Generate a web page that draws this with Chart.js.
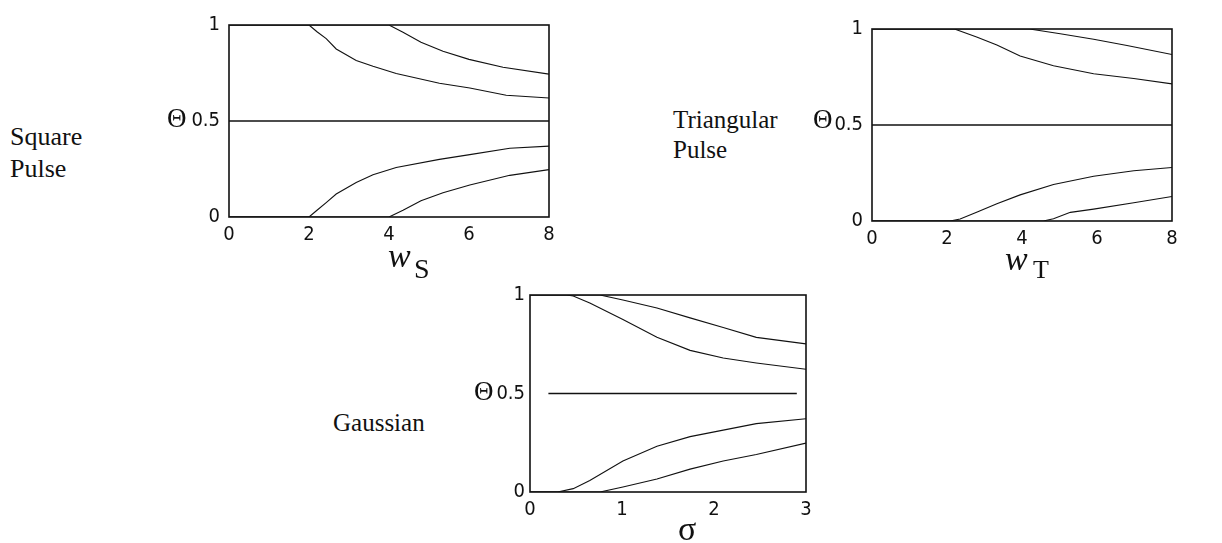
<!DOCTYPE html>
<html>
<head>
<meta charset="utf-8">
<script src="https://cdn.jsdelivr.net/npm/chart.js@4.4.1/dist/chart.umd.min.js"></script>
<style>
  html, body { margin: 0; padding: 0; background: #fff; }
  body { width: 1222px; height: 543px; position: relative; overflow: hidden; }
  canvas { position: absolute; }
  .t { position: absolute; white-space: nowrap; color: #111; font-family: 'Liberation Serif', 'Times New Roman', serif; }
</style>
</head>
<body>
<canvas id="c1"></canvas>
<canvas id="c2"></canvas>
<canvas id="c3"></canvas>
<script>
// ---------- DATA ----------
// Panel 1: Square pulse, x = w_S
const sqUpperOuterX = [0, 4.0, 4.35, 4.8, 5.35, 6.0, 6.85, 8.0];
const sqUpperOuterY = [1, 1.0, 0.962, 0.91, 0.863, 0.821, 0.780, 0.744];
const sqUpperInnerX = [0, 2.0, 2.2, 2.43, 2.68, 3.18, 3.6, 4.18, 5.26, 6.02, 6.93, 8.0];
const sqUpperInnerY = [1, 1.0, 0.965, 0.929, 0.875, 0.815, 0.785, 0.747, 0.697, 0.672, 0.634, 0.620];
const sqLowerInnerX = [0, 2.0, 2.2, 2.43, 2.68, 3.18, 3.6, 4.18, 5.26, 6.02, 7.02, 8.0];
const sqLowerInnerY = [0, 0.0, 0.035, 0.075, 0.120, 0.180, 0.220, 0.258, 0.300, 0.325, 0.358, 0.369];
const sqLowerOuterX = [0, 4.0, 4.35, 4.8, 5.35, 6.02, 7.02, 8.0];
const sqLowerOuterY = [0, 0.0, 0.035, 0.085, 0.126, 0.167, 0.217, 0.247];
const sqMidX = [0, 8];
const sqMidY = [0.5, 0.5];

// Panel 2: Triangular pulse, x = w_T
const trUpperOuterX = [0, 4.2, 5.02, 5.91, 6.8, 8.0];
const trUpperOuterY = [1, 1.0, 0.975, 0.947, 0.914, 0.867];
const trUpperInnerX = [0, 2.2, 2.79, 3.33, 3.95, 4.84, 5.91, 6.98, 8.0];
const trUpperInnerY = [1, 1.0, 0.958, 0.917, 0.859, 0.809, 0.767, 0.742, 0.714];
const trLowerInnerX = [0, 2.08, 2.35, 2.79, 3.33, 3.95, 4.84, 5.91, 6.98, 8.0];
const trLowerInnerY = [0, 0.0, 0.01, 0.045, 0.090, 0.136, 0.190, 0.233, 0.262, 0.279];
const trLowerOuterX = [0, 4.57, 4.84, 5.29, 5.91, 6.98, 8.0];
const trLowerOuterY = [0, 0.0, 0.012, 0.045, 0.062, 0.095, 0.128];
const trMidX = [0, 8];
const trMidY = [0.5, 0.5];

// Panel 3: Gaussian, x = sigma
const gaUpperOuterX = [0, 0.76, 1.01, 1.38, 1.74, 2.10, 2.46, 3.0];
const gaUpperOuterY = [1, 1.0, 0.975, 0.934, 0.884, 0.835, 0.785, 0.752];
const gaUpperInnerX = [0, 0.40, 0.47, 0.65, 1.01, 1.38, 1.74, 2.10, 2.46, 3.0];
const gaUpperInnerY = [1, 1.0, 0.995, 0.959, 0.876, 0.785, 0.719, 0.680, 0.655, 0.623];
const gaLowerInnerX = [0, 0.30, 0.47, 0.65, 1.01, 1.38, 1.74, 2.10, 2.46, 3.0];
const gaLowerInnerY = [0, 0.0, 0.017, 0.058, 0.157, 0.232, 0.281, 0.314, 0.347, 0.372];
const gaLowerOuterX = [0, 0.76, 1.01, 1.38, 1.74, 2.10, 2.46, 3.0];
const gaLowerOuterY = [0, 0.0, 0.025, 0.066, 0.116, 0.157, 0.190, 0.248];
const gaMidX = [0.2, 2.9];
const gaMidY = [0.5, 0.5];

const yTicks = [0, 0.5, 1];
const xTicksPulse = [0, 2, 4, 6, 8];
const xTicksGauss = [0, 1, 2, 3];

// ---------- HELPERS ----------
const pts = (xs, ys) => xs.map((x, i) => ({ x: x, y: ys[i] }));
const tickFont = { family: "'Liberation Sans Narrow', 'DejaVu Sans Condensed', 'Liberation Sans', sans-serif", size: 20 };

const boxPlugin = {
  id: 'box',
  afterDatasetsDraw(chart) {
    const a = chart.chartArea, ctx = chart.ctx;
    ctx.save();
    ctx.strokeStyle = '#111';
    ctx.lineWidth = 1.6;
    ctx.strokeRect(a.left, a.top, a.right - a.left, a.bottom - a.top);
    ctx.restore();
  }
};

function line(data, w) {
  return { data: data, borderColor: '#111', borderWidth: w || 1.1, pointRadius: 0,
           showLine: true, fill: false, tension: 0 };
}

function makeChart(id, area, xMax, xTickVals, yPad, datasets) {
  const padL = 50, padT = 12, padR = 12, axH = 40;
  const cv = document.getElementById(id);
  const w = (area.right - area.left) + padL + padR;
  const h = (area.bottom - area.top) + padT + axH;
  cv.width = w; cv.height = h;
  cv.style.width = w + 'px'; cv.style.height = h + 'px';
  cv.style.left = (area.left - padL) + 'px';
  cv.style.top = (area.top - padT) + 'px';
  return new Chart(cv, {
    type: 'scatter',
    data: { datasets: datasets },
    options: {
      responsive: false, animation: false, devicePixelRatio: 1,
      layout: { padding: { left: 0, top: padT, right: padR, bottom: 0 } },
      plugins: { legend: { display: false }, tooltip: { enabled: false } },
      scales: {
        x: {
          type: 'linear', min: 0, max: xMax,
          grid: { display: false, drawTicks: false }, border: { display: false },
          afterBuildTicks: s => { s.ticks = xTickVals.map(v => ({ value: v })); },
          afterFit: s => { s.height = axH; },
          ticks: { color: '#111', font: tickFont, padding: 6, maxRotation: 0, autoSkip: false }
        },
        y: {
          type: 'linear', min: 0, max: 1,
          grid: { display: false, drawTicks: false }, border: { display: false },
          afterBuildTicks: s => { s.ticks = yTicks.map(v => ({ value: v })); },
          afterFit: s => { s.width = padL; },
          ticks: { color: '#111', font: tickFont, padding: yPad, autoSkip: false,
                   callback: v => String(v) }
        }
      }
    },
    plugins: [boxPlugin]
  });
}

makeChart('c1', { left: 229, right: 549, top: 16, bottom: 217 }, 8, xTicksPulse, 9, [
  line(pts(sqUpperOuterX, sqUpperOuterY)), line(pts(sqUpperInnerX, sqUpperInnerY)),
  line(pts(sqMidX, sqMidY), 1.6),
  line(pts(sqLowerInnerX, sqLowerInnerY)), line(pts(sqLowerOuterX, sqLowerOuterY))
]);
makeChart('c2', { left: 872, right: 1172, top: 20, bottom: 221 }, 8, xTicksPulse, 9, [
  line(pts(trUpperOuterX, trUpperOuterY)), line(pts(trUpperInnerX, trUpperInnerY)),
  line(pts(trMidX, trMidY), 1.6),
  line(pts(trLowerInnerX, trLowerInnerY)), line(pts(trLowerOuterX, trLowerOuterY))
]);
makeChart('c3', { left: 530, right: 806, top: 290, bottom: 492 }, 3, xTicksGauss, 5, [
  line(pts(gaUpperOuterX, gaUpperOuterY)), line(pts(gaUpperInnerX, gaUpperInnerY)),
  line(pts(gaMidX, gaMidY), 1.6),
  line(pts(gaLowerInnerX, gaLowerInnerY)), line(pts(gaLowerOuterX, gaLowerOuterY))
]);

// ---------- TEXT ----------
function txt(s, x, baseline, size, extra) {
  const d = document.createElement('div');
  d.className = 't';
  d.textContent = s;
  d.style.left = x + 'px';
  d.style.fontSize = size + 'px';
  d.style.lineHeight = size + 'px';
  d.style.top = (baseline - 0.8375 * size) + 'px';
  if (extra) Object.assign(d.style, extra);
  document.body.appendChild(d);
}
txt('Square', 10, 146, 26);
txt('Pulse', 10, 178, 26);
txt('Triangular', 673, 128, 25);
txt('Pulse', 673, 158, 25);
txt('Gaussian', 333, 431, 25);
txt('Θ', 167, 128, 27);
txt('Θ', 813, 129, 27);
txt('Θ', 474, 401, 27);
txt('w', 388, 267, 34, { fontStyle: 'italic' });
txt('S', 414, 278, 28);
txt('w', 1005, 270, 34, { fontStyle: 'italic' });
txt('T', 1033, 279, 26);
txt('σ', 678, 540, 34);
</script>
</body>
</html>
